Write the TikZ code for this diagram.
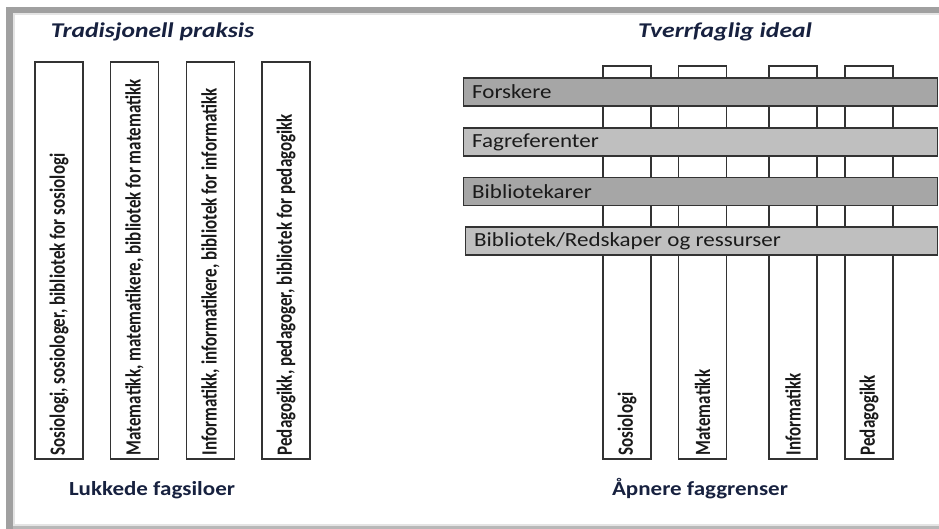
\documentclass[tikz,border=0pt]{standalone}
\usepackage{fontspec}
\setmainfont{Carlito}
\usepackage{graphicx}
\usetikzlibrary{positioning}

\definecolor{framegray}{HTML}{A0A0A0}
\definecolor{framelight}{HTML}{E4E4E4}
\definecolor{linegray}{HTML}{333333}
\definecolor{bardark}{HTML}{A6A6A6}
\definecolor{barlight}{HTML}{BFBFBF}
\definecolor{textblack}{HTML}{1A1A1A}
\definecolor{navy}{HTML}{17213F}

% the source picture is a bit wider than tall, so stretch the text to match
\newcommand\wide[1]{\scalebox{1.15}[1]{#1}}
\newcommand\wider[1]{\scalebox{1.22}[1]{#1}}
\newcommand\tall[1]{\scalebox{1}[1.28]{#1}}

\begin{document}
\begin{tikzpicture}
  [x=1pt, y=-1pt,
  silo/.style={draw=linegray, line width=1.2pt, fill=white, minimum width=48pt, minimum height=397pt, inner sep=0pt},
  column/.style={draw=linegray, line width=1.2pt, fill=white, minimum width=48pt, minimum height=393pt, inner sep=0pt},
  bar/.style={draw=linegray, line width=1.2pt, minimum width=474pt, minimum height=28pt, inner sep=0pt, anchor=west},
  vlabel/.style={rotate=90, anchor=west, inner sep=0pt, text=textblack, font=\fontsize{17}{18}\selectfont\bfseries},
  blabel/.style={inner sep=0pt, anchor=west, text=textblack, font=\fontsize{20}{22}\selectfont},
  heading/.style={anchor=base, inner sep=0pt, text=navy, font=\fontsize{21}{22}\selectfont\bfseries\itshape},
  caption/.style={anchor=base, inner sep=0pt, text=navy, font=\fontsize{20}{22}\selectfont\bfseries},
 ]
  \useasboundingbox (0,0) rectangle (939,529);

  % frame
  \draw[framelight, line width=1.5pt] (13.8,529) -- (13.8,13.8) -- (939,13.8);
  \draw[framelight, line width=1.5pt] (13,525.2) -- (939,525.2);
  \draw[framegray, line width=6pt] (6,10) -- (939,10);
  \draw[framegray, line width=6.5pt] (9.5,7) -- (9.5,529);
  \draw[framegray!75, line width=3pt] (13,527.5) -- (939,527.5);

  % left side: closed silos
  \node[heading] (trad) at (152.5,38) {\wider{Tradisjonell praksis}};
  \node[silo] (sil1) at (59,260.5) {};
  \node[silo] (sil2) at (134.5,260.5) {};
  \node[silo] (sil3) at (210.5,260.5) {};
  \node[silo] (sil4) at (286,260.5) {};
  \node[vlabel] (lsil1) at ([yshift=4pt]sil1.south) {\tall{Sosiologi, sosiologer, bibliotek for sosiologi}};
  \node[vlabel] (lsil2) at ([yshift=4pt]sil2.south) {\tall{Matematikk, matematikere, bibliotek for matematikk}};
  \node[vlabel] (lsil3) at ([yshift=4pt]sil3.south) {\tall{Informatikk, informatikere, bibliotek for informatikk}};
  \node[vlabel] (lsil4) at ([yshift=4pt]sil4.south) {\tall{Pedagogikk, pedagoger, bibliotek for pedagogikk}};
  \node[caption] (lukk) at (152,495) {\wide{Lukkede fagsiloer}};

  % right side: columns crossed by shared layers
  \node[heading] (tverr) at (725,38) {\wider{Tverrfaglig ideal}};
  \node[column] (col1) at (627,262.5) {};
  \node[column] (col2) at (702.5,262.5) {};
  \node[column] (col3) at (793,262.5) {};
  \node[column] (col4) at (869,262.5) {};
  \node[vlabel] (lcol1) at ([yshift=4pt]col1.south) {\tall{Sosiologi}};
  \node[vlabel] (lcol2) at ([yshift=4pt]col2.south) {\tall{Matematikk}};
  \node[vlabel] (lcol3) at ([yshift=4pt]col3.south) {\tall{Informatikk}};
  \node[vlabel] (lcol4) at ([yshift=4pt]col4.south) {\tall{Pedagogikk}};

  \node[bar, fill=bardark] (forsk) at (463,92) {};
  \node[bar, fill=barlight] (fagref) at (463,142) {};
  \node[bar, fill=bardark] (bibkar) at (463,191.5) {};
  \node[bar, fill=barlight, minimum width=472pt] (bibred) at (465,241) {};
  \node[blabel, right=9pt of forsk.west] (lforsk) {\wide{Forskere}};
  \node[blabel, right=9pt of fagref.west] (lfagref) {\wide{Fagreferenter}};
  \node[blabel, right=9pt of bibkar.west] (lbibkar) {\wide{Bibliotekarer}};
  \node[blabel, right=9pt of bibred.west] (lbibred) {\wide{Bibliotek/Redskaper og ressurser}};
  \node[caption] (apn) at (700,495) {\wide{Åpnere faggrenser}};
\end{tikzpicture}
\end{document}
